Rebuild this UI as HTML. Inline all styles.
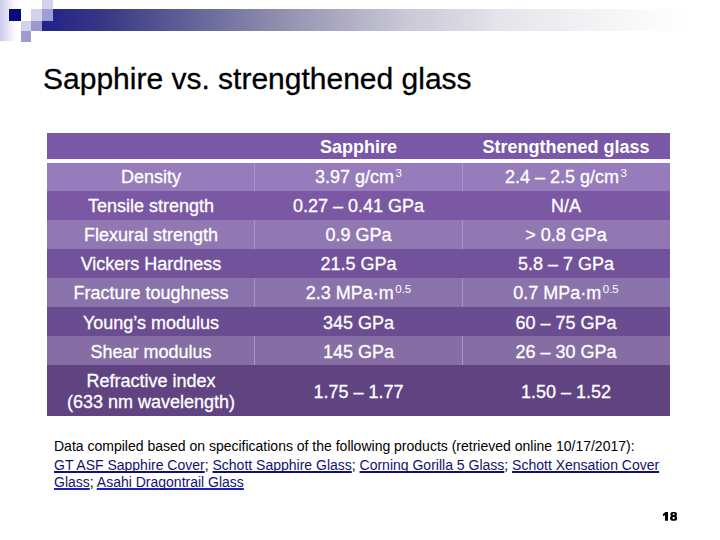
<!DOCTYPE html>
<html>
<head>
<meta charset="utf-8">
<title>Sapphire vs. strengthened glass</title>
<style>
html,body{margin:0;padding:0;}
body{width:720px;height:540px;position:relative;overflow:hidden;background:#fff;font-family:"Liberation Sans",sans-serif;}
.abs{position:absolute;}
#lgrad{left:0;top:0;width:21px;height:40.5px;background:linear-gradient(to right,#cacaec 0%,#dadaf1 25%,#eeeef8 50%,#fbfbfe 75%,#ffffff 90%);}
#bar{left:42px;top:9px;width:678px;height:21.5px;background:linear-gradient(to right,#22228c 0%,#26268a 2%,#363684 8.6%,#68689a 23.3%,#9a98b4 38%,#c6c6d6 52.8%,#e4e4ea 67.5%,#f4f4f7 82.3%,#ffffff 95.6%);}
.sq{position:absolute;}
#title{left:43px;top:62px;font-size:30px;line-height:34px;color:#000;-webkit-text-stroke:0.3px #000;white-space:nowrap;}
#tbl{left:47px;top:133px;width:623px;}
.row{position:absolute;left:0;width:623px;}
.st{position:absolute;left:0;width:623px;}
.cell{position:absolute;top:0;height:100%;color:#fff;-webkit-text-stroke:0.3px #fff;font-size:18px;text-align:center;white-space:nowrap;display:flex;align-items:center;justify-content:center;}
.c1{left:0;width:208px;}
.c2{left:208px;width:207px;}
.c3{left:415px;width:208px;}
.sep{position:absolute;width:1px;background:#ab92d2;}
sup{font-size:11.5px;vertical-align:baseline;position:relative;top:-4.6px;letter-spacing:0;margin-left:1.5px;color:#fff;-webkit-text-stroke:0;}
#foot{left:54px;top:438px;width:640px;font-size:14px;line-height:17px;color:#000;}
#foot a{color:#12126e;text-decoration:underline;text-decoration-thickness:2px;text-underline-offset:1px;text-decoration-skip-ink:none;}
#foot a.l3{text-decoration-color:#2020c0;}

</style>
</head>
<body>
<div class="abs" id="lgrad"></div>
<div class="abs" id="bar"></div>
<div class="sq" style="left:9px;top:9px;width:12px;height:12px;background:#0a0a7c;"></div>
<div class="sq" style="left:42px;top:0;width:11px;height:9px;background:#d2d2ea;"></div>
<div class="sq" style="left:42px;top:9px;width:11px;height:12px;background:#9e9ed6;"></div>
<div class="sq" style="left:31px;top:9px;width:11px;height:12px;background:#d2d2ea;"></div>
<div class="sq" style="left:31px;top:21px;width:11px;height:10px;background:#9a9acf;"></div>
<div class="sq" style="left:21px;top:21px;width:10px;height:10px;background:#d2d2ec;"></div>
<div class="sq" style="left:21px;top:31px;width:10px;height:11px;background:#9c9cd0;"></div>

<div class="abs" id="title">Sapphire vs. strengthened glass</div>

<div class="abs" id="tbl">
  <div class="st" style="top:0px;height:26px;background:#7a58a8;"></div>
  <div class="st" style="top:30px;height:28px;background:#967cba;"></div>
  <div class="st" style="top:58px;height:29px;background:#7a58a4;"></div>
  <div class="st" style="top:87px;height:29px;background:#9278b2;"></div>
  <div class="st" style="top:116px;height:29px;background:#72529a;"></div>
  <div class="st" style="top:145px;height:29px;background:#8a72aa;"></div>
  <div class="st" style="top:174px;height:29px;background:#6a4c90;"></div>
  <div class="st" style="top:203px;height:29px;background:#866ea4;"></div>
  <div class="st" style="top:232px;height:51px;background:#604482;"></div>
  <div class="sep" style="left:207px;top:30px;height:28px;"></div>
  <div class="sep" style="left:415px;top:30px;height:28px;"></div>
  <div class="sep" style="left:207px;top:87px;height:29px;"></div>
  <div class="sep" style="left:415px;top:87px;height:29px;"></div>
  <div class="sep" style="left:207px;top:145px;height:29px;"></div>
  <div class="sep" style="left:415px;top:145px;height:29px;"></div>
  <div class="sep" style="left:207px;top:203px;height:29px;"></div>
  <div class="sep" style="left:415px;top:203px;height:29px;"></div>
  <div class="row" style="top:1px;height:26px;">
    <div class="cell c2" style="font-weight:bold;-webkit-text-stroke:0;">Sapphire</div>
    <div class="cell c3" style="font-weight:bold;-webkit-text-stroke:0;">Strengthened glass</div>
  </div>
  <div class="row light" style="top:30px;height:29px;">
    <div class="cell c1">Density</div><div class="cell c2">3.97 g/cm<sup>3</sup></div><div class="cell c3">2.4 – 2.5 g/cm<sup>3</sup></div>
  </div>
  <div class="row" style="top:59px;height:29px;">
    <div class="cell c1">Tensile strength</div><div class="cell c2">0.27 – 0.41 GPa</div><div class="cell c3">N/A</div>
  </div>
  <div class="row light" style="top:88px;height:29px;">
    <div class="cell c1">Flexural strength</div><div class="cell c2">0.9 GPa</div><div class="cell c3">&gt; 0.8 GPa</div>
  </div>
  <div class="row" style="top:117px;height:29px;">
    <div class="cell c1">Vickers Hardness</div><div class="cell c2">21.5 GPa</div><div class="cell c3">5.8 – 7 GPa</div>
  </div>
  <div class="row light" style="top:146px;height:29px;">
    <div class="cell c1">Fracture toughness</div><div class="cell c2">2.3 MPa·m<sup>0.5</sup></div><div class="cell c3">0.7 MPa·m<sup>0.5</sup></div>
  </div>
  <div class="row" style="top:176px;height:29px;">
    <div class="cell c1">Young’s modulus</div><div class="cell c2">345 GPa</div><div class="cell c3">60 – 75 GPa</div>
  </div>
  <div class="row light" style="top:205px;height:29px;">
    <div class="cell c1">Shear modulus</div><div class="cell c2">145 GPa</div><div class="cell c3">26 – 30 GPa</div>
  </div>
  <div class="row" style="top:233px;height:51px;">
    <div class="cell c1" style="line-height:21px;">Refractive index<br>(633 nm wavelength)</div><div class="cell c2" style="top:1px;">1.75 – 1.77</div><div class="cell c3" style="top:1px;">1.50 – 1.52</div>
  </div>
</div>

<div class="abs" id="foot">
<div>Data compiled based on specifications of the following products (retrieved online 10/17/2017):</div>
<div style="margin-top:2px;white-space:nowrap;"><a>GT ASF Sapphire Cover</a>; <a>Schott Sapphire Glass</a>; <a>Corning Gorilla 5 Glass</a>; <a>Schott Xensation Cover</a><br><a class="l3">Glass</a>; <a class="l3">Asahi Dragontrail Glass</a></div>
</div>

<svg class="abs" id="pn" width="24" height="14" viewBox="658 509 24 14" style="left:658px;top:509px;">
<path d="M665.4 511.9 H668 V520.8 H665 V515.3 L663.3 516.3 L662.8 514.3 Z" fill="#000"/>
<path fill-rule="evenodd" fill="#000" d="M672.4 511.9 H674.9 Q676.9 511.9 676.9 513.7 V514.5 Q676.9 515.6 676.1 516 Q677.2 516.5 677.2 517.8 V518.8 Q677.2 520.8 675 520.8 H672.3 Q670.1 520.8 670.1 518.8 V517.8 Q670.1 516.5 671.2 516 Q670.4 515.6 670.4 514.5 V513.7 Q670.4 511.9 672.4 511.9 Z M672.8 513.5 V515.1 H674.5 V513.5 Z M672.7 516.9 V519 H674.6 V516.9 Z"/>
</svg>
</body>
</html>
